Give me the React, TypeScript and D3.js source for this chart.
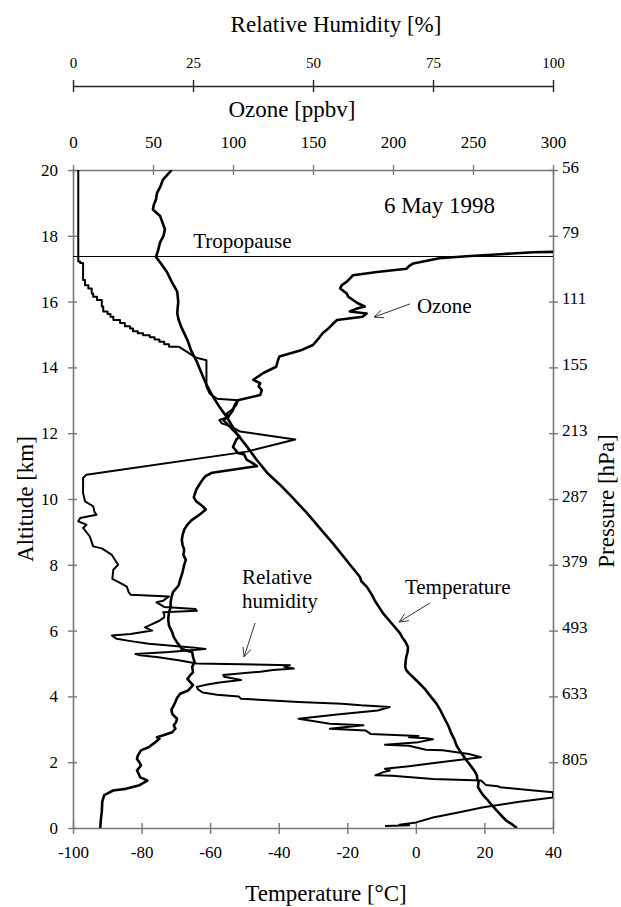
import * as d3 from "d3";
import React, { useEffect, useRef } from "react";

const altTicks = [0, 2, 4, 6, 8, 10, 12, 14, 16, 18, 20];
const tempTicks = [-100, -80, -60, -40, -20, 0, 20, 40];
const ozoneTicks = [0, 50, 100, 150, 200, 250, 300];
const rhTicks = [0, 25, 50, 75, 100];
const pressureAlts = [2, 4, 6, 8, 10, 12, 14, 16, 18, 20];
const pressureLabels = ["805", "633", "493", "379", "287", "213", "155", "111", "79", "56"];
const tropopauseAlt = 17.37;

// [altitude km, temperature °C]
const temperature: [number, number][] = [
  [0, 29.5], [0.1, 28.2], [0.22, 26.4], [0.35, 25.2], [0.53, 23.6], [0.7, 22.1], [0.88, 20.7],
  [1.0, 19.6], [1.14, 18.7], [1.25, 18.1], [1.39, 18.3], [1.5, 17.9], [1.6, 17.8], [1.72, 17.2],
  [1.85, 16.3], [2.0, 15.2], [2.2, 13.8], [2.35, 12.8], [2.5, 11.9], [2.7, 11.2], [2.86, 10.4],
  [3.1, 9.5], [3.32, 8.4], [3.55, 7.3], [3.78, 6.0], [4.0, 4.3], [4.23, 2.6], [4.4, 1.0],
  [4.55, -0.5], [4.7, -2.0], [4.8, -2.8], [4.9, -3.1], [5.05, -3.0], [5.2, -2.8], [5.35, -2.4],
  [5.5, -2.3], [5.65, -3.0], [5.8, -4.0], [5.93, -4.7], [6.2, -6.9], [6.53, -9.6], [6.9, -11.9],
  [7.1, -12.9], [7.33, -14.3], [7.5, -15.9], [7.63, -16.3], [8.0, -19.2], [8.3, -21.5],
  [8.65, -24.2], [9.0, -27.1], [9.36, -30], [9.6, -32.0], [9.8, -33.8], [10.1, -36.5],
  [10.45, -39.8], [10.8, -43.4], [11.2, -46.5], [11.6, -49.3], [12.0, -52.3], [12.5, -55.2],
  [12.8, -57.3], [13.1, -59.1], [13.5, -61.2], [13.9, -62.8], [14.2, -64.0], [14.5, -65.5],
  [14.8, -66.5], [15.2, -68.3], [15.45, -69.2], [15.65, -69.6], [16.0, -69.3], [16.3, -69.6],
  [16.6, -71.2], [16.9, -72.6], [17.15, -74.3], [17.36, -75.8], [17.55, -75.2], [17.8, -74.6],
  [18.0, -73.6], [18.2, -73.2], [18.4, -73.9], [18.6, -74.6], [18.8, -76.7], [18.95, -76.4],
  [19.1, -75.8], [19.3, -75.5], [19.5, -74.5], [19.7, -73.8], [19.85, -72.5], [20, -71.2],
];

// [altitude km, ozone ppbv]
const ozone: [number, number][] = [
  [0, 17], [0.3, 17.5], [0.5, 18], [0.8, 18.3], [1.0, 19.5], [1.06, 22], [1.14, 25], [1.19, 33],
  [1.29, 41], [1.44, 46.5], [1.5, 44], [1.54, 42], [1.65, 41], [1.75, 40], [1.9, 42.5], [2.0, 41.5],
  [2.1, 40], [2.2, 40.5], [2.36, 42.5], [2.46, 47.5], [2.61, 51.5], [2.71, 54], [2.76, 52.5],
  [2.81, 56], [2.91, 62], [3.02, 64], [3.12, 63], [3.22, 64.5], [3.32, 65], [3.47, 62], [3.6, 61.5],
  [3.68, 62.5], [3.83, 64], [3.95, 65], [4.08, 67], [4.18, 72], [4.34, 75], [4.45, 73], [4.53, 71.5],
  [4.63, 73], [4.73, 75], [4.9, 74.5], [5.04, 76], [5.2, 75], [5.34, 74.5], [5.44, 68], [5.55, 66.5],
  [5.64, 65], [5.8, 63], [5.95, 62], [6.15, 60], [6.35, 59.5], [6.56, 60], [6.7, 61], [6.86, 61],
  [7.0, 61.5], [7.17, 62.5], [7.37, 66], [7.55, 67], [7.78, 68.5], [8.0, 69.5], [8.15, 70.5],
  [8.3, 69], [8.46, 69.5], [8.6, 68.5], [8.76, 68], [8.9, 68.5], [9.07, 69.5], [9.22, 71.5],
  [9.35, 74], [9.52, 79], [9.6, 81], [9.68, 83], [9.78, 81], [9.93, 77], [10.05, 75.5], [10.13, 76],
  [10.28, 77], [10.44, 79], [10.59, 81], [10.7, 83], [10.8, 87], [11.0, 115], [11.1, 112],
  [11.2, 108.5], [11.35, 107], [11.4, 103], [11.58, 100], [11.8, 102], [11.9, 104], [12.05, 101],
  [12.2, 98], [12.3, 96], [12.4, 94], [12.5, 97], [12.7, 100], [12.85, 101], [13.0, 103],
  [13.16, 117], [13.31, 118], [13.42, 116], [13.52, 117], [13.62, 112.7], [13.7, 115], [13.83, 119],
  [14.02, 127], [14.2, 128], [14.33, 129], [14.51, 142], [14.68, 150], [14.85, 153], [15.04, 156],
  [15.2, 160], [15.35, 163], [15.44, 165], [15.54, 181], [15.64, 183.5], [15.7, 173], [15.78, 177],
  [15.85, 182.3], [15.95, 178], [16.05, 175], [16.15, 172], [16.25, 171], [16.4, 167], [16.5, 168],
  [16.6, 171], [16.7, 173], [16.8, 175], [16.9, 190], [17.0, 208.5], [17.08, 210], [17.16, 212.7],
  [17.32, 229], [17.38, 246], [17.44, 267], [17.5, 287.5], [17.51, 300],
];

// [altitude km, relative humidity %], troposphere
const humidity: [number, number][] = [
  [0.06, 65], [0.08, 70], [0.1, 68], [0.17, 71.5], [0.32, 75], [0.48, 80.5], [0.63, 85.5],
  [0.8, 93], [0.93, 100], [1.09, 100], [1.14, 96], [1.24, 89], [1.27, 88.5], [1.31, 86],
  [1.38, 85.5], [1.44, 85], [1.49, 75], [1.59, 66.5], [1.6, 63], [1.69, 64.5], [1.75, 66],
  [1.8, 65], [1.88, 70], [2.0, 76.5], [2.1, 82], [2.15, 85], [2.25, 82.5], [2.36, 77],
  [2.38, 73.5], [2.5, 70], [2.53, 65], [2.61, 72], [2.7, 75], [2.73, 73.5], [2.76, 70], [2.8, 72],
  [2.86, 62], [2.96, 61], [3.02, 53.5], [3.12, 60.5], [3.17, 53.5], [3.32, 47], [3.45, 55],
  [3.57, 63.5], [3.68, 66], [3.73, 60], [3.78, 56], [3.83, 47], [3.93, 35], [4.0, 34.5],
  [4.05, 30], [4.12, 27], [4.22, 26], [4.29, 25.8], [4.36, 28], [4.42, 30.5], [4.5, 35],
  [4.6, 31.5], [4.65, 31.3], [4.75, 39], [4.8, 41.7], [4.85, 46], [4.9, 44], [4.95, 45.2],
  [5.0, 25.8], [5.1, 22], [5.19, 17.8], [5.25, 14], [5.29, 13], [5.35, 20], [5.44, 27.6],
  [5.49, 24.8], [5.55, 20], [5.6, 15.8], [5.68, 12], [5.75, 9.1], [5.85, 8.1], [5.9, 12],
  [6.0, 16.5], [6.1, 15], [6.15, 15.8], [6.3, 18], [6.4, 19], [6.5, 19], [6.56, 18.8], [6.6, 25.8],
  [6.66, 25.5], [6.72, 19], [6.86, 17.4], [6.91, 18.8], [7.04, 20], [7.09, 12], [7.17, 11.6],
  [7.34, 11.2], [7.42, 10.2], [7.57, 8.2], [7.85, 8.4], [8.0, 9.4], [8.3, 8.1], [8.5, 6],
  [8.56, 4.2], [8.86, 3.5], [9.12, 2.1], [9.22, 2.8], [9.32, 1.1], [9.42, 1.5], [9.52, 4.9],
  [9.6, 4.5], [9.78, 4.2], [9.93, 2.5], [10.18, 2.1], [10.64, 2.1], [10.74, 2.8], [11.44, 36.2],
  [11.81, 46.3], [12.05, 34.8], [12.2, 33], [12.3, 31], [12.4, 30.5], [12.5, 32.5], [12.6, 32],
  [12.7, 33], [12.85, 34], [13.0, 34.4], [13.05, 30], [13.2, 28.5], [13.42, 27.8], [14.22, 27.8],
  [14.3, 25.5], [14.45, 24], [14.63, 22],
];

// [altitude km, relative humidity %], stepped upper part
const humidityUpper: [number, number][] = [
  [14.63, 22], [14.7, 20], [14.78, 19], [14.85, 18], [14.92, 17], [14.98, 16], [15.04, 14.6],
  [15.1, 13.5], [15.18, 12.5], [15.25, 11.9], [15.35, 10.8], [15.44, 9.8], [15.54, 8.4],
  [15.62, 7.8], [15.7, 7.2], [15.85, 6.3], [16.05, 6], [16.15, 5], [16.25, 4.2], [16.4, 3.9],
  [16.5, 3.2], [16.66, 2.5], [16.86, 2.1], [17.17, 2.1], [17.22, 1.5], [17.26, 1.1], [20, 1.1],
];

const W = 621;
const H = 907;
const m = { left: 73, right: 553, top: 170, bottom: 828 };
const FONT = '"Liberation Serif", "Times New Roman", Times, serif';

function SoundingChart() {
  const svgRef = useRef<SVGSVGElement>(null);

  useEffect(() => {
    const svg = d3.select(svgRef.current);
    svg.selectAll("*").remove();

    const y = d3.scaleLinear().domain([0, 20]).range([m.bottom, m.top]);
    const xT = d3.scaleLinear().domain([-100, 40]).range([m.left, m.right]);
    const xO = d3.scaleLinear().domain([0, 300]).range([m.left, m.right]);
    const xH = d3.scaleLinear().domain([0, 100]).range([m.left, m.right]);
    const grey = "#787878";

    const style = (g: any, color: string, size: number) => {
      g.attr("font-family", FONT).attr("font-size", size);
      g.select(".domain").attr("stroke", color).attr("stroke-width", 1.6);
      g.selectAll(".tick line").attr("stroke", color).attr("stroke-width", 1.4);
      g.selectAll(".tick text").attr("fill", "#000");
    };

    // bottom: temperature
    const gB = svg.append("g").attr("transform", `translate(0,${m.bottom})`)
      .call(d3.axisBottom(xT).tickValues(tempTicks).tickFormat((d: any) => String(d)).tickSizeOuter(0));
    style(gB, grey, 17);
    gB.selectAll(".tick line").attr("y1", -5).attr("y2", 6);
    gB.selectAll(".tick text").attr("y", 30).attr("dy", null);

    // left: altitude
    const gL = svg.append("g").attr("transform", `translate(${m.left},0)`)
      .call(d3.axisLeft(y).tickValues(altTicks).tickFormat((d: any) => String(d)).tickSizeOuter(0));
    style(gL, grey, 17);
    gL.selectAll(".tick line").attr("x1", 4).attr("x2", -5);
    gL.selectAll(".tick text").attr("x", -15);

    // right: pressure
    const gR = svg.append("g").attr("transform", `translate(${m.right},0)`)
      .call(d3.axisRight(y).tickValues(pressureAlts).tickFormat((d: any, i: number) => pressureLabels[i]).tickSizeOuter(0));
    style(gR, grey, 17);
    gR.selectAll(".tick line").attr("x1", -4).attr("x2", 5);
    gR.selectAll(".tick text").attr("x", 9).attr("dy", "0.12em");

    // top: ozone
    const gT = svg.append("g").attr("transform", `translate(0,${m.top})`)
      .call(d3.axisTop(xO).tickValues(ozoneTicks).tickFormat((d: any) => String(d)).tickSizeOuter(0));
    style(gT, grey, 17);
    gT.selectAll(".tick line").attr("y1", 5).attr("y2", -5);
    gT.selectAll(".tick text").attr("y", -22);

    // upper: relative humidity
    const gH = svg.append("g").attr("transform", "translate(0,86)")
      .call(d3.axisTop(xH).tickValues(rhTicks).tickFormat((d: any) => String(d)).tickSizeOuter(0));
    style(gH, "#222", 15);
    gH.selectAll(".tick line").attr("y1", 6).attr("y2", -6);
    gH.selectAll(".tick text").attr("y", -18);

    // titles
    const text = (x: number, yy: number, s: string, size: number, anchor = "middle", rotate = false) => {
      const t = svg.append("text")
        .attr("font-family", FONT).attr("font-size", size).attr("text-anchor", anchor).attr("fill", "#000")
        .text(s);
      if (rotate) t.attr("transform", `translate(${x},${yy}) rotate(-90)`);
      else t.attr("x", x).attr("y", yy);
      return t;
    };
    text(336, 32, "Relative Humidity [%]", 23);
    text(292, 117, "Ozone [ppbv]", 23);
    text(326, 901, "Temperature [°C]", 23);
    text(33, 499, "Altitude [km]", 23, "middle", true);
    text(614, 501, "Pressure [hPa]", 23, "middle", true);

    // tropopause
    svg.append("line")
      .attr("x1", m.left).attr("x2", m.right)
      .attr("y1", y(tropopauseAlt)).attr("y2", y(tropopauseAlt))
      .attr("stroke", "#000").attr("stroke-width", 1.1);

    const clip = svg.append("clipPath").attr("id", "plot-clip");
    clip.append("rect").attr("x", m.left).attr("y", m.top)
      .attr("width", m.right - m.left).attr("height", m.bottom - m.top);
    const plot = svg.append("g").attr("clip-path", "url(#plot-clip)");

    const lineT = d3.line<[number, number]>().x((d) => xT(d[1])).y((d) => y(d[0]));
    const lineO = d3.line<[number, number]>().x((d) => xO(d[1])).y((d) => y(d[0]));
    const lineH = d3.line<[number, number]>().x((d) => xH(d[1])).y((d) => y(d[0]));
    const lineHs = d3.line<[number, number]>().x((d) => xH(d[1])).y((d) => y(d[0])).curve(d3.curveStepAfter);

    const draw = (d: string | null, w: number) =>
      plot.append("path").attr("d", d).attr("fill", "none").attr("stroke", "#000")
        .attr("stroke-width", w).attr("stroke-linejoin", "round");
    draw(lineH(humidity), 2);
    draw(lineHs(humidityUpper), 2);
    draw(lineO(ozone), 2.6);
    draw(lineT(temperature), 2.6);

    // annotations (anchored in temperature / altitude units)
    text(xT(6.9), y(18.69), "6 May 1998", 23);
    text(xT(-50.6), y(17.63), "Tropopause", 21);
    text(xT(0.3), y(15.65), "Ozone", 21, "start");
    text(xT(-3.2), y(7.11), "Temperature", 21, "start");
    text(xT(-50.7), y(7.42), "Relative", 21, "start");
    text(xT(-50.7), y(6.69), "humidity", 21, "start");

    const arrow = (t1: number, a1: number, t2: number, a2: number) => {
      const x1 = xT(t1), y1 = y(a1), x2 = xT(t2), y2 = y(a2);
      const ang = Math.atan2(y2 - y1, x2 - x1);
      const L = 10, s = 0.42;
      const p = d3.path();
      p.moveTo(x1, y1); p.lineTo(x2, y2);
      p.moveTo(x2 - L * Math.cos(ang - s), y2 - L * Math.sin(ang - s));
      p.lineTo(x2, y2);
      p.lineTo(x2 - L * Math.cos(ang + s), y2 - L * Math.sin(ang + s));
      svg.append("path").attr("d", p.toString()).attr("fill", "none")
        .attr("stroke", "#333").attr("stroke-width", 1);
    };
    arrow(-1.7, 15.93, -12.2, 15.53);
    arrow(4.1, 6.84, -4.9, 6.26);
    arrow(-46.9, 6.23, -50.1, 5.2);
  }, []);

  return (
    <svg ref={svgRef} width={W} height={H}
      style={{ position: "absolute", left: 0, top: 0, background: "#fff" }} />
  );
}

export default function App() {
  return <SoundingChart />;
}
